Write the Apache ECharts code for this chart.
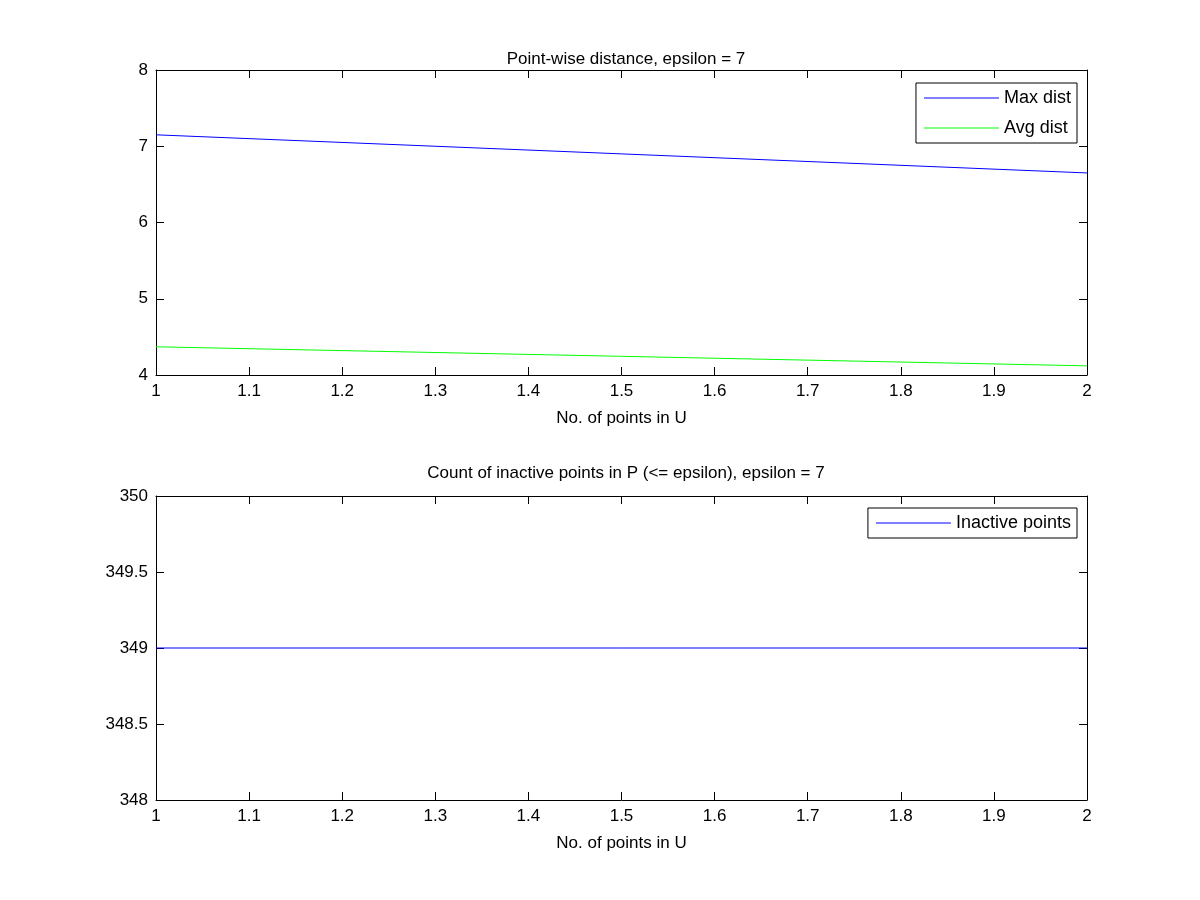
<!DOCTYPE html>
<html>
<head>
<meta charset="utf-8">
<script src="https://cdn.jsdelivr.net/npm/echarts@6/dist/echarts.min.js"></script>
<style>html,body{margin:0;background:#fff}#c{width:1200px;height:900px}</style>
</head>
<body>
<div id="c"></div>
<script>
// data
var uPoints = [1, 2];
var maxDist = [7.15, 6.65];
var avgDist = [4.37, 4.12];
var inactive = [349, 349];

var font = 'Liberation Sans';
var chart = echarts.init(document.getElementById('c'));

function pairs(xs, ys) {
    return xs.map(function (x, i) { return [x, ys[i]]; });
}

function xAx(grid, show) {
    return {
        type: 'value', gridIndex: grid, min: 1, max: 2, interval: 0.1,
        position: show ? 'bottom' : 'top',
        name: show ? 'No. of points in U' : '', nameLocation: 'middle', nameGap: 35,
        nameTextStyle: { color: '#000', fontSize: 17, fontFamily: font },
        axisLine: { onZero: false, lineStyle: { color: '#000' } },
        axisTick: { inside: true, length: 8, lineStyle: { color: '#000' } },
        axisLabel: { show: show, color: '#000', fontSize: 17, fontFamily: font, margin: 8,
            formatter: function (v) { return +v.toFixed(1) + ''; } },
        splitLine: { show: false }
    };
}
function yAx(grid, show, min, max, iv) {
    return {
        type: 'value', gridIndex: grid, min: min, max: max, interval: iv,
        position: show ? 'left' : 'right',
        axisLine: { show: true, lineStyle: { color: '#000' } },
        axisTick: { show: true, inside: true, length: 8, lineStyle: { color: '#000' } },
        axisLabel: { show: show, color: '#000', fontSize: 17, fontFamily: font, margin: 8 },
        splitLine: { show: false }
    };
}

var legendCommon = {
    orient: 'vertical', borderColor: '#000', borderWidth: 1, borderRadius: 0,
    backgroundColor: '#fff', itemWidth: 75, itemHeight: 1, itemGap: 12,
    padding: [6, 6, 6, 8],
    textStyle: { color: '#000', fontSize: 18, fontFamily: font },
    icon: 'rect'
};

chart.setOption({
    animation: false,
    title: [
        { text: 'Point-wise distance, epsilon = 7', left: 621, top: 46, textAlign: 'center',
          textStyle: { fontSize: 17, fontWeight: 'normal', color: '#000', fontFamily: font } },
        { text: 'Count of inactive points in P (<= epsilon), epsilon = 7', left: 621, top: 460, textAlign: 'center',
          textStyle: { fontSize: 17, fontWeight: 'normal', color: '#000', fontFamily: font } }
    ],
    legend: [
        Object.assign({ data: ['Max dist', 'Avg dist'], right: 123, top: 83 }, legendCommon),
        Object.assign({ data: ['Inactive points'], right: 123, top: 508 }, legendCommon)
    ],
    grid: [
        { left: 156, right: 113, top: 70, height: 305 },
        { left: 156, right: 113, top: 496, height: 304 }
    ],
    xAxis: [xAx(0, true), xAx(0, false), xAx(1, true), xAx(1, false)],
    yAxis: [yAx(0, true, 4, 8, 1), yAx(0, false, 4, 8, 1),
            yAx(1, true, 348, 350, 0.5), yAx(1, false, 348, 350, 0.5)],
    series: [
        { name: 'Max dist', type: 'line', xAxisIndex: 0, yAxisIndex: 0, data: pairs(uPoints, maxDist),
          symbol: 'none', color: '#0000ff', lineStyle: { width: 1 } },
        { name: 'Avg dist', type: 'line', xAxisIndex: 0, yAxisIndex: 0, data: pairs(uPoints, avgDist),
          symbol: 'none', color: '#00ff00', lineStyle: { width: 1 } },
        { name: 'Inactive points', type: 'line', xAxisIndex: 2, yAxisIndex: 2, data: pairs(uPoints, inactive),
          symbol: 'none', color: '#0000ff', lineStyle: { width: 1 } }
    ]
});
</script>
</body>
</html>
